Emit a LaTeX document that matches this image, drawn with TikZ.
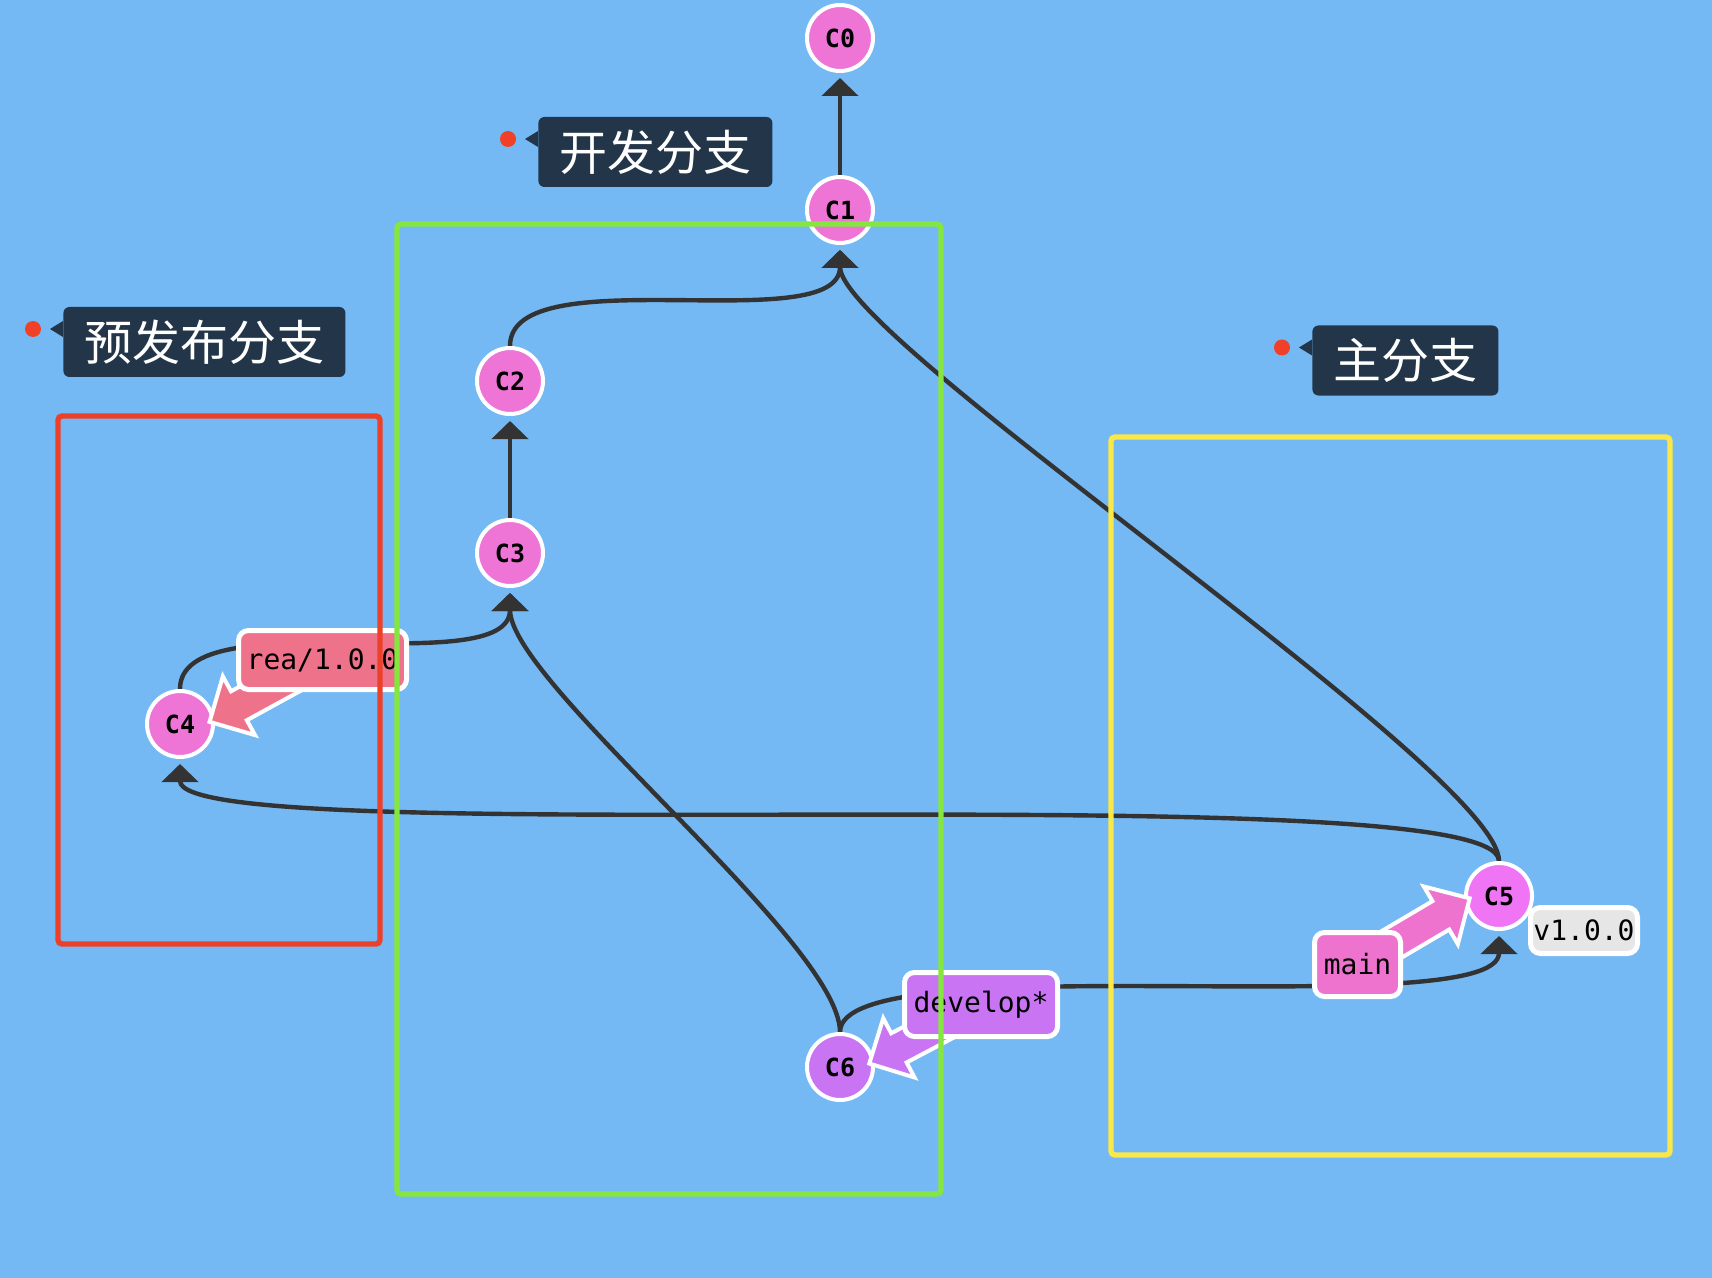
\documentclass[tikz,border=0pt]{standalone}
\usepackage{fontspec}
\setmonofont{DejaVu Sans Mono}
\newfontfamily\cjk{Noto Sans CJK SC}
\usepackage{tikz}
\usetikzlibrary{arrows.meta, shapes.arrows, calc}
\definecolor{bgblue}{RGB}{116,185,244}
\definecolor{edgegray}{RGB}{51,51,51}
\definecolor{commitpink}{RGB}{238,116,214}
\definecolor{mergepink}{RGB}{240,117,245}
\definecolor{devpurple}{RGB}{200,116,243}
\definecolor{relred}{RGB}{238,115,138}
\definecolor{mainpink}{RGB}{238,115,207}
\definecolor{tagcolor}{RGB}{230,230,230}
\definecolor{notedark}{RGB}{35,54,73}
\definecolor{dotred}{RGB}{240,65,40}
\definecolor{framered}{RGB}{236,64,40}
\definecolor{framegreen}{RGB}{132,230,62}
\definecolor{frameyellow}{RGB}{250,232,72}
\pgfdeclarelayer{back}
\pgfdeclarelayer{edges}
\pgfdeclarelayer{commits}
\pgfdeclarelayer{ptrs}
\pgfsetlayers{back,edges,commits,ptrs,main}

\begin{document}
\begin{tikzpicture}[
      % GLOBAL CFG
      x=0.5pt, y=-0.5pt,
      % Styles
      commit/.style={% For commits
        circle,
        draw=white,
        line width=2pt,
        fill=commitpink,
        minimum size=33pt,
        inner sep=0pt,
        font=\ttfamily\bfseries\fontsize{12.5}{13}\selectfont
      },
      ref/.style={% For branch names and tags
        rectangle,
        rounded corners=5pt,
        draw=white,
        line width=2.5pt,
        inner sep=0pt,
        font=\ttfamily\fontsize{14}{16}\selectfont
      },
      refptr/.style={% Arrows from branch names to commits
        single arrow,
        draw=white,
        line width=2pt,
        fill=#1,
        inner xsep=0pt,
        inner ysep=7.25pt,
        minimum height=48pt,
        single arrow head extend=8.5pt,
        single arrow tip angle=90,
        sloped,
        allow upside down,
        anchor=tip,
        pos=0.81
      },
      parent/.style={% Arrows to parent commits
        draw=edgegray,
        line width=2.2pt,
        -{Triangle[length=9pt,width=18pt]}
      },
      notebox/.style={% For notes
        rectangle,
        rounded corners=3pt,
        fill=notedark,
        text=white,
        minimum height=35pt,
        inner xsep=10.5pt,
        anchor=west,
        font=\cjk\fontsize{24}{28}\selectfont
      },
      notedot/.style={
        circle,
        fill=dotred,
        minimum size=8pt,
        inner sep=0pt
      },
      groupbox/.style={% Frames round the branches
        line width=2.7pt,
        rounded corners=2pt
      }
      ]

      \begin{pgfonlayer}{back}
        \fill [bgblue] (0,0) rectangle (1712,1278);
      \end{pgfonlayer}

      % Commits
      \begin{pgfonlayer}{commits}
        \node [commit] (C0) at (840,38) {C0};
        \node [commit] (C1) at (840,210) {C1};
        \node [commit] (C2) at (510,381) {C2};
        \node [commit] (C3) at (510,553) {C3};
        \node [commit] (C4) at (180,724) {C4};
        \node [commit, fill=mergepink] (C5) at (1499,896) {C5};
        \node [commit, fill=devpurple] (C6) at (840,1067) {C6};
      \end{pgfonlayer}

      % Branch names
      \node [ref, fill=relred, minimum width=84pt, minimum height=29.5pt] (rea) at (322.5,660) {rea/1.0.0};
      \node [ref, fill=devpurple, minimum width=76.5pt, minimum height=32pt] (develop) at (981,1004.5) {develop*};
      \node [ref, fill=mainpink, minimum width=43pt, minimum height=32pt] (main) at (1357.5,964.5) {main};
      \node [ref, fill=tagcolor, minimum width=53.5pt, minimum height=23pt] (tag) at (1584,930.5) {v1.0.0};

      % Parents
      \begin{pgfonlayer}{edges}
        \draw [parent] (C1.north) -- ($(C0.south)+(0,5)$);
        \draw [parent] (C2.north) .. controls +(0,-90) and +(0,90) .. ($(C1.south)+(0,5)$);
        \draw [parent] (C3.north) -- ($(C2.south)+(0,5)$);
        \draw [parent] (C4.north) .. controls +(0,-90) and +(0,90) .. ($(C3.south)+(0,5)$);
        \draw [parent] (C5.north) .. controls +(0,-90) and +(0,90) .. ($(C1.south)+(0,5)$);
        \draw [parent] (C5.north) .. controls +(0,-90) and +(0,90) .. ($(C4.south)+(0,5)$);
        \draw [parent] (C6.north) .. controls +(0,-90) and +(0,90) .. ($(C3.south)+(0,5)$);
        \draw [parent] (C6.north) .. controls +(0,-90) and +(0,90) .. ($(C5.south)+(0,5)$);
      \end{pgfonlayer}

      % Branch pointers
      \begin{pgfonlayer}{ptrs}
        \path (rea.center) -- node [refptr=relred] (reaptr) {} ($(C4.center)+(0,14)$);
        \path (develop.center) -- node [refptr=devpurple] (devptr) {} ($(C6.center)+(0,12)$);
        \path (main.center) -- node [refptr=mainpink] (mainptr) {} ($(C5.center)+(0,-15)$);
      \end{pgfonlayer}

      % Frames
      \draw [groupbox, draw=framered] (58,416) rectangle (380,944);
      \draw [groupbox, draw=framegreen] (397,224) rectangle (941,1194);
      \draw [groupbox, draw=frameyellow] (1111,437) rectangle (1670,1155);

      % Notes
      \node [notebox] (devnote) at (538,152) {开发分支};
      \fill [notedark] ($(devnote.west)+(0,-21)$) -- ($(devnote.west)+(-13,-13)$) -- ($(devnote.west)+(0,-5)$) -- cycle;
      \node [notedot] (devdot) at ($(devnote.west)+(-30,-13)$) {};

      \node [notebox] (relnote) at (63,342) {预发布分支};
      \fill [notedark] ($(relnote.west)+(0,-21)$) -- ($(relnote.west)+(-13,-13)$) -- ($(relnote.west)+(0,-5)$) -- cycle;
      \node [notedot] (reldot) at ($(relnote.west)+(-30,-13)$) {};

      \node [notebox] (mainnote) at (1312,360.5) {主分支};
      \fill [notedark] ($(mainnote.west)+(0,-21)$) -- ($(mainnote.west)+(-13,-13)$) -- ($(mainnote.west)+(0,-5)$) -- cycle;
      \node [notedot] (maindot) at ($(mainnote.west)+(-30,-13)$) {};

    \end{tikzpicture}
\end{document}
